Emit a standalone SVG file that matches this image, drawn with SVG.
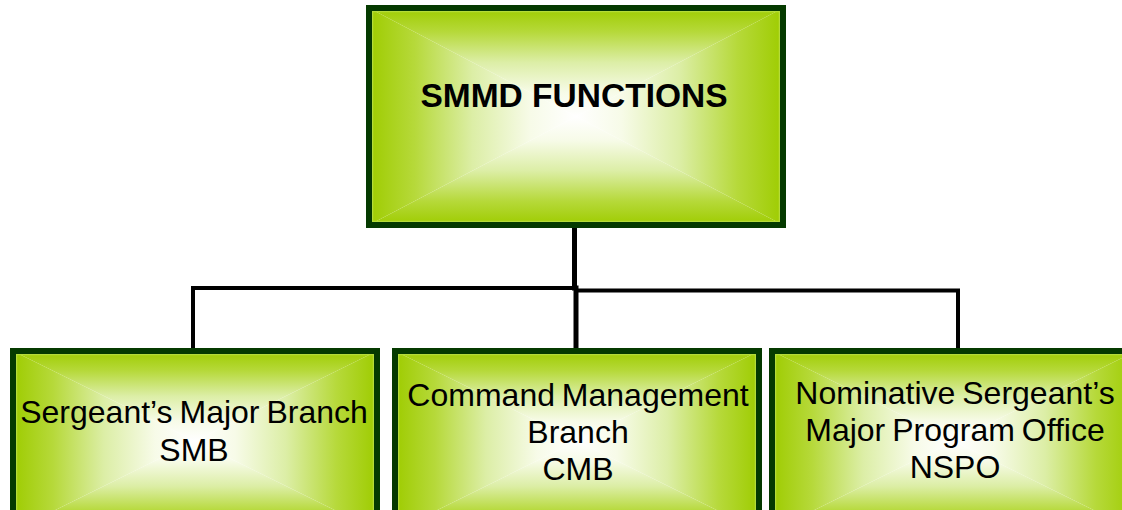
<svg xmlns="http://www.w3.org/2000/svg" width="1122" height="510" viewBox="0 0 1122 510">
  <defs>
    <linearGradient id="gT" x1="0" y1="0" x2="0" y2="1">
      <stop offset="0" stop-color="#9ECC00"/>
      <stop offset="0.22" stop-color="#B6D93A"/>
      <stop offset="0.5" stop-color="#DCEEA6"/>
      <stop offset="0.78" stop-color="#F7FBE8"/>
      <stop offset="1" stop-color="#FFFFFF"/>
    </linearGradient>
    <linearGradient id="gB" href="#gT" x1="0" y1="1" x2="0" y2="0"/>
    <linearGradient id="gL" href="#gT" x1="0" y1="0" x2="1" y2="0"/>
    <linearGradient id="gR" href="#gT" x1="1" y1="0" x2="0" y2="0"/>
    <style>
      .frame { fill: none; stroke: #053A00; stroke-width: 6; }
      .inner { fill: none; stroke: #B5DB3A; stroke-width: 1.5; }
      .t { fill: url(#gT); }
      .b { fill: url(#gB); }
      .l { fill: url(#gL); }
      .r { fill: url(#gR); }
      .title { font-family: "Liberation Sans", Arial, sans-serif; font-size: 33.5px; font-weight: bold; fill: #000; text-anchor: middle; }
      .lbl { font-family: "Liberation Sans", Arial, sans-serif; font-size: 32px; fill: #000; text-anchor: middle; word-spacing: -2px; }
      .conn { fill: none; stroke: #000; stroke-linejoin: miter; stroke-linecap: square; }
    </style>
  </defs>
  <rect width="1122" height="510" fill="#FFFFFF"/>

  <g id="connectors">
    <path class="conn" stroke-width="5" d="M574.5 228 V288"/>
    <path class="conn" stroke-width="4" d="M193 348 V288 H574.5"/>
    <path class="conn" stroke-width="4" d="M576 290.5 H958 V348"/>
    <path class="conn" stroke-width="5" d="M576 288 V348"/>
  </g>

  <g id="node-smmd">
    <polygon class="t" points="369,8 783,8 576,116.5"/>
    <polygon class="b" points="369,225 783,225 576,116.5"/>
    <polygon class="l" points="369,8 369,225 576,116.5"/>
    <polygon class="r" points="783,8 783,225 576,116.5"/>
    <rect class="inner" x="372.5" y="11.5" width="407" height="210"/>
    <rect class="frame" x="369" y="8" width="414" height="217"/>
    <text class="title" x="574" y="107">SMMD FUNCTIONS</text>
  </g>

  <g id="node-smb">
    <polygon class="t" points="13,351 377,351 195,441"/>
    <polygon class="b" points="13,531 377,531 195,441"/>
    <polygon class="l" points="13,351 13,531 195,441"/>
    <polygon class="r" points="377,351 377,531 195,441"/>
    <rect class="inner" x="16.5" y="354.5" width="357" height="173"/>
    <rect class="frame" x="13" y="351" width="364" height="180"/>
    <text class="lbl" x="194" y="423">Sergeant’s Major Branch</text>
    <text class="lbl" x="194" y="461">SMB</text>
  </g>

  <g id="node-cmb">
    <polygon class="t" points="395,351 759,351 577,441"/>
    <polygon class="b" points="395,531 759,531 577,441"/>
    <polygon class="l" points="395,351 395,531 577,441"/>
    <polygon class="r" points="759,351 759,531 577,441"/>
    <rect class="inner" x="398.5" y="354.5" width="357" height="173"/>
    <rect class="frame" x="395" y="351" width="364" height="180"/>
    <text class="lbl" x="578" y="406">Command Management</text>
    <text class="lbl" x="578" y="443">Branch</text>
    <text class="lbl" x="578" y="480">CMB</text>
  </g>

  <g id="node-nspo">
    <polygon class="t" points="772,351 1136,351 954,441"/>
    <polygon class="b" points="772,531 1136,531 954,441"/>
    <polygon class="l" points="772,351 772,531 954,441"/>
    <polygon class="r" points="1136,351 1136,531 954,441"/>
    <rect class="inner" x="775.5" y="354.5" width="357" height="173"/>
    <rect class="frame" x="772" y="351" width="364" height="180"/>
    <text class="lbl" x="955" y="404">Nominative Sergeant’s</text>
    <text class="lbl" x="955" y="441">Major Program Office</text>
    <text class="lbl" x="955" y="478">NSPO</text>
  </g>
</svg>
